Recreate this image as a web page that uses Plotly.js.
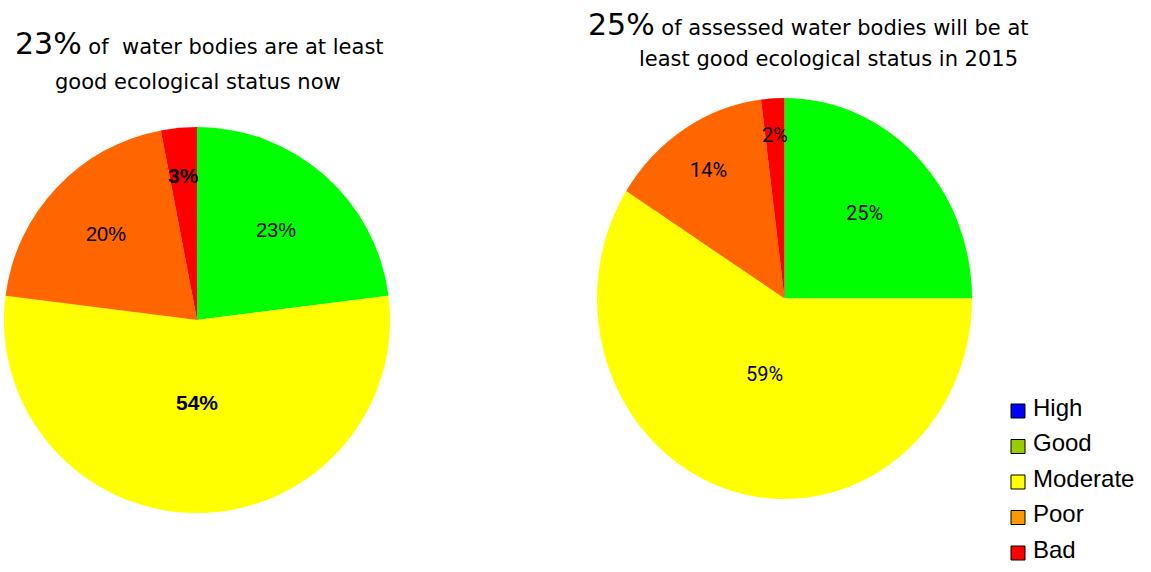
<!DOCTYPE html>
<html>
<head>
<meta charset="utf-8">
<script src="https://cdn.plot.ly/plotly-3.0.1.min.js"></script>
<style>
  html, body { margin: 0; padding: 0; background: #ffffff; }
  #chart { width: 1151px; height: 572px; }
</style>
</head>
<body>
<div id="chart"></div>
<script>
// Ecological status of water bodies: now and expected in 2015
const statusLabels = ['Good', 'Moderate', 'Poor', 'Bad'];
const nowValues = [23, 54, 20, 3];
const futureValues = [25, 59, 14, 2];
const sliceColors = ['#00ff00', '#ffff00', '#ff6600', '#ff0000'];

const legendLabels = ['High', 'Good', 'Moderate', 'Poor', 'Bad'];
const legendColors = ['#0000ff', '#99cc00', '#ffff00', '#ff9900', '#ff0000'];

const nowHeadline = '23%';
const nowTitle = ['of&nbsp; water bodies are at least', 'good ecological status now'];
const futureHeadline = '25%';
const futureTitle = ['of assessed water bodies will be at', 'least good ecological status in 2015'];

const W = 1151, H = 572;

// pie placement in pixels: center, horizontal radius and vertical radius
const pies = [
  { values: nowValues, cx: 197, cy: 320, rx: 193, ry: 193,
    labelR: [0.62, 0.43, 0.65, 0.75], bold: [false, true, false, true],
    font: 'Liberation Sans, Arial, sans-serif' },
  { values: futureValues, cx: 784.5, cy: 298.5, rx: 187.5, ry: 200.5,
    labelR: [0.6, 0.39, 0.76, 0.815], bold: [false, false, false, false],
    font: 'Roboto, sans-serif' }
];

const data = pies.map(p => ({
  type: 'pie',
  labels: statusLabels,
  values: p.values,
  sort: false,
  direction: 'clockwise',
  rotation: 0,
  marker: { colors: sliceColors, line: { width: 0 } },
  textinfo: 'none',
  hoverinfo: 'label+percent',
  showlegend: false,
  domain: {
    x: [(p.cx - p.rx) / W, (p.cx + p.rx) / W],
    y: [(H - p.cy - p.rx) / H, (H - p.cy + p.rx) / H]
  }
}));

const annotations = [];
const shapes = [];

// percentage labels placed along each slice's mid angle
pies.forEach(p => {
  const total = p.values.reduce((a, b) => a + b, 0);
  let cum = 0;
  p.values.forEach((v, i) => {
    const mid = (cum + v / 2) / total * 2 * Math.PI;
    cum += v;
    const px = p.cx + Math.sin(mid) * p.rx * p.labelR[i];
    const py = p.cy - Math.cos(mid) * p.ry * p.labelR[i];
    const txt = Math.round(v / total * 100) + '%';
    annotations.push({
      xref: 'paper', yref: 'paper', x: px / W, y: 1 - py / H,
      xanchor: 'center', yanchor: 'middle', showarrow: false,
      text: p.bold[i] ? '<b>' + txt + '</b>' : txt,
      font: { family: p.font, size: p.bold[i] ? 21 : 20, color: '#000000' }
    });
  });
});

// headings above each pie
const titleFont = 'DejaVu Sans, Verdana, sans-serif';
function heading(line1, big, line2, x1, y1, x2, y2) {
  annotations.push({
    xref: 'paper', yref: 'paper', x: x1 / W, y: 1 - y1 / H,
    xanchor: 'center', yanchor: 'middle', showarrow: false,
    text: '<span style="font-size:30px">' + big + '</span> ' + line1,
    font: { family: titleFont, size: 21, color: '#000000' }
  });
  annotations.push({
    xref: 'paper', yref: 'paper', x: x2 / W, y: 1 - y2 / H,
    xanchor: 'center', yanchor: 'middle', showarrow: false,
    text: line2,
    font: { family: titleFont, size: 21, color: '#000000' }
  });
}
heading(nowTitle[0], nowHeadline, nowTitle[1], 199, 43, 198, 82);
heading(futureTitle[0], futureHeadline, futureTitle[1], 808, 24, 828, 59);

// status legend
legendLabels.forEach((lab, i) => {
  const yc = 411 + i * 35.5;
  shapes.push({
    type: 'rect', xref: 'paper', yref: 'paper',
    x0: 1011 / W, x1: 1025 / W, y0: 1 - (yc + 7) / H, y1: 1 - (yc - 7) / H,
    fillcolor: legendColors[i], line: { color: '#000000', width: 1 }
  });
  annotations.push({
    xref: 'paper', yref: 'paper', x: 1031 / W, y: 1 - (yc - 4) / H,
    xanchor: 'left', yanchor: 'middle', showarrow: false,
    text: lab,
    font: { family: 'Liberation Sans, Arial, sans-serif', size: 24, color: '#000000' }
  });
});

const layout = {
  width: W, height: H,
  margin: { l: 0, r: 0, t: 0, b: 0, pad: 0 },
  paper_bgcolor: '#ffffff',
  plot_bgcolor: '#ffffff',
  showlegend: false,
  annotations: annotations,
  shapes: shapes
};

Plotly.newPlot('chart', data, layout, { displayModeBar: false, staticPlot: true }).then(gd => {
  // stretch each pie vertically to its own vertical radius around its center
  const traces = gd.querySelectorAll('.pielayer .trace');
  pies.forEach((p, i) => {
    const sy = p.ry / p.rx;
    if (traces[i] && Math.abs(sy - 1) > 1e-6) {
      traces[i].setAttribute('transform',
        'translate(0,' + p.cy + ') scale(1,' + sy + ') translate(0,' + (-p.cy) + ')');
    }
  });
});
</script>
</body>
</html>
